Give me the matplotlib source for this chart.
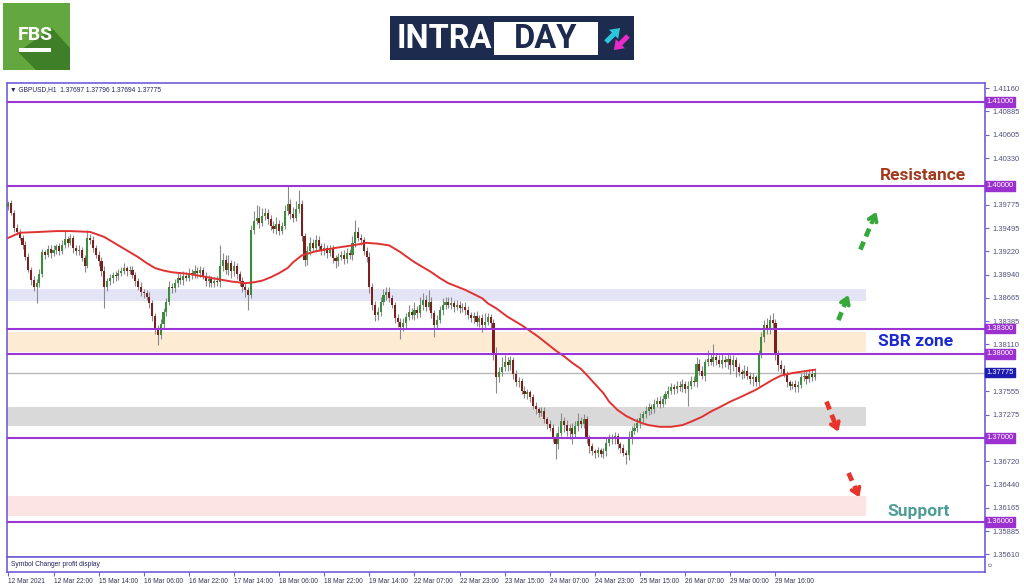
import matplotlib
matplotlib.use("Agg")
import matplotlib.pyplot as plt
import matplotlib.transforms as mtransforms
from matplotlib.patches import Rectangle, Polygon
import numpy as np

W, H = 1024, 587

# GBPUSD H1 closes, bar by bar (12 Mar 06:00 .. 30 Mar 06:00)
closes = [
    1.3979, 1.3968, 1.3950, 1.3945, 1.3938, 1.3930, 1.3915, 1.3900, 1.3888, 1.3880,
    1.3884, 1.3895, 1.3921, 1.3918, 1.3925, 1.3920, 1.3924, 1.3928, 1.3922, 1.3930,
    1.3936, 1.3932, 1.3938, 1.3926, 1.3922, 1.3924, 1.3914, 1.3905, 1.3938, 1.3935,
    1.3926, 1.3918, 1.3910, 1.3898, 1.3880, 1.3886, 1.3890, 1.3894, 1.3892, 1.3896,
    1.3899, 1.3902, 1.3898, 1.3900, 1.3894, 1.3886, 1.3880, 1.3874, 1.3872, 1.3868,
    1.3860, 1.3845, 1.3830, 1.3822, 1.3835, 1.3850, 1.3862, 1.3880, 1.3878, 1.3884,
    1.3890, 1.3888, 1.3893, 1.3890, 1.3896, 1.3894, 1.3899, 1.3896, 1.3900, 1.3893,
    1.3886, 1.3889, 1.3884, 1.3887, 1.3885, 1.3905, 1.3912, 1.3900, 1.3908, 1.3898,
    1.3904, 1.3895, 1.3886, 1.3880, 1.3876, 1.3870, 1.3947, 1.3958, 1.3962, 1.3956,
    1.3964, 1.3968, 1.3960, 1.3952, 1.3948, 1.3955, 1.3946, 1.3952, 1.3970, 1.3978,
    1.3966, 1.3962, 1.3972, 1.3978, 1.3940, 1.3912, 1.3922, 1.3932, 1.3926, 1.3935,
    1.3928, 1.3922, 1.3926, 1.3920, 1.3925, 1.3914, 1.3910, 1.3915, 1.3918, 1.3913,
    1.3920, 1.3917, 1.3932, 1.3945, 1.3938, 1.3935, 1.3922, 1.3915, 1.3880, 1.3858,
    1.3846, 1.3850, 1.3862, 1.3870, 1.3874, 1.3866, 1.3858, 1.3842, 1.3838, 1.3832,
    1.3836, 1.3844, 1.3850, 1.3846, 1.3852, 1.3848, 1.3858, 1.3864, 1.3856, 1.3862,
    1.3848, 1.3834, 1.3840, 1.3852, 1.3858, 1.3862, 1.3858, 1.3860, 1.3856, 1.3858,
    1.3854, 1.3856, 1.3852, 1.3846, 1.3842, 1.3845, 1.3838, 1.3842, 1.3834, 1.3838,
    1.3844, 1.3836, 1.3800, 1.3772, 1.3778, 1.3784, 1.3790, 1.3786, 1.3792, 1.3776,
    1.3766, 1.3768, 1.3756, 1.3752, 1.3754, 1.3748, 1.3738, 1.3734, 1.3730, 1.3732,
    1.3722, 1.3716, 1.3712, 1.3700, 1.3692, 1.3706, 1.3720, 1.3715, 1.3708, 1.3712,
    1.3705, 1.3714, 1.3720, 1.3716, 1.3722, 1.3700, 1.3690, 1.3684, 1.3682, 1.3685,
    1.3681, 1.3684, 1.3694, 1.3700, 1.3698, 1.3702, 1.3692, 1.3688, 1.3682, 1.3680,
    1.3698, 1.3708, 1.3712, 1.3718, 1.3724, 1.3728, 1.3732, 1.3736, 1.3734, 1.3740,
    1.3744, 1.3740, 1.3746, 1.3752, 1.3756, 1.3760, 1.3758, 1.3762, 1.3760, 1.3764,
    1.3758, 1.3762, 1.3768, 1.3766, 1.3788, 1.3780, 1.3774, 1.3790, 1.3794, 1.3790,
    1.3796, 1.3792, 1.3788, 1.3792, 1.3790, 1.3794, 1.3786, 1.3792, 1.3784, 1.3778,
    1.3776, 1.3780, 1.3774, 1.3770, 1.3772, 1.3766, 1.3800, 1.3820, 1.3834, 1.3828,
    1.3840, 1.3836, 1.3800, 1.3786, 1.3782, 1.3776, 1.3766, 1.3762, 1.3764, 1.3760,
    1.3763, 1.3772, 1.3774, 1.3770, 1.3776, 1.3772, 1.37775,
]
first_open = 1.3975

# wick length beyond the body, in pips
upper_wick = [
    3, 4, 3, 5, 4, 3, 4, 5, 3, 4,  5, 6, 4, 3, 5, 4, 6, 3, 4, 5,
    11, 4, 5, 3, 4, 5, 3, 4, 9, 4,  5, 3, 4, 5, 6, 4, 5, 3, 4, 5,
    4, 6, 3, 5, 4, 3, 4, 5, 3, 4,  5, 4, 3, 4, 6, 5, 4, 6, 4, 5,
    7, 5, 6, 4, 6, 5, 7, 4, 5, 3,  4, 5, 3, 4, 5, 24, 8, 5, 9, 4,
    6, 4, 3, 5, 4, 3, 6, 12, 15, 14,  9, 6, 4, 5, 6, 8, 4, 5, 7, 23,
    6, 9, 10, 17, 5, 4, 6, 7, 4, 6,  5, 4, 6, 3, 5, 4, 3, 5, 4, 5,
    6, 5, 8, 14, 6, 5, 4, 5, 6, 4,  5, 6, 5, 7, 6, 5, 4, 3, 5, 4,
    6, 5, 8, 4, 9, 5, 10, 8, 6, 14,  5, 4, 6, 5, 8, 6, 5, 7, 4, 6,
    5, 4, 6, 5, 4, 5, 6, 4, 5, 10,  4, 3, 5, 8, 6, 12, 8, 6, 5, 4,
    5, 4, 3, 5, 4, 3, 4, 5, 3, 4,  4, 3, 5, 4, 6, 8, 10, 5, 6, 4,
    5, 6, 10, 5, 6, 4, 3, 4, 3, 4,  3, 4, 6, 5, 4, 5, 4, 3, 4, 3,
    10, 6, 5, 6, 5, 4, 6, 5, 4, 6,  5, 6, 5, 4, 6, 5, 4, 6, 5, 6,
    4, 5, 6, 5, 8, 6, 5, 4, 10, 6,  16, 5, 6, 8, 5, 6, 5, 7, 4, 5,
    4, 6, 5, 4, 5, 3, 5, 6, 6, 8,  6, 8, 5, 4, 6, 5, 4, 3, 4, 5,
    4, 5, 4, 5, 6, 5, 4,
]
lower_wick = [
    4, 3, 5, 4, 3, 5, 4, 3, 6, 5,  20, 5, 4, 5, 3, 6, 4, 5, 4, 3,
    4, 5, 3, 6, 4, 5, 4, 8, 3, 4,  5, 4, 6, 5, 26, 5, 4, 6, 5, 4,
    3, 4, 5, 3, 4, 5, 4, 5, 6, 4,  5, 6, 7, 12, 5, 6, 5, 4, 6, 5,
    4, 5, 6, 4, 3, 5, 4, 6, 5, 4,  5, 6, 4, 5, 4, 5, 6, 5, 6, 8,
    5, 6, 5, 6, 8, 18, 4, 5, 4, 6,  4, 5, 6, 5, 4, 6, 5, 4, 3, 5,
    6, 5, 4, 5, 6, 8, 6, 5, 4, 5,  6, 4, 5, 6, 4, 6, 8, 5, 4, 6,
    5, 4, 6, 5, 4, 6, 5, 6, 8, 6,  7, 6, 5, 4, 6, 5, 4, 5, 6, 14,
    5, 6, 4, 5, 6, 5, 4, 6, 5, 4,  6, 14, 5, 4, 6, 5, 4, 5, 6, 4,
    5, 4, 6, 5, 4, 6, 5, 6, 8, 5,  4, 6, 8, 19, 6, 5, 4, 6, 5, 6,
    5, 6, 4, 5, 6, 5, 4, 6, 5, 4,  5, 6, 4, 5, 17, 5, 4, 8, 6, 10,
    12, 5, 6, 4, 5, 6, 8, 5, 6, 5,  4, 5, 6, 4, 5, 6, 5, 6, 4, 11,
    6, 5, 4, 5, 6, 5, 4, 5, 6, 5,  4, 5, 4, 6, 5, 4, 6, 5, 4, 5,
    5, 20, 4, 5, 6, 5, 4, 6, 5, 4,  5, 6, 4, 5, 6, 8, 10, 6, 12, 5,
    6, 5, 4, 6, 8, 5, 4, 5, 6, 4,  5, 6, 8, 6, 5, 4, 6, 5, 4, 5,
    6, 4, 5, 6, 4, 5, 3,
]

# moving average (red line), read at sample bars
ma_bars = [0, 4, 11, 17, 22, 29, 34, 39, 43, 46, 49, 52, 55, 58, 64, 74, 79, 84,
           87, 90, 93, 96, 99, 101, 104, 109, 116, 122, 127, 131, 135, 139, 141,
           144, 147, 150, 153, 156, 159, 162, 165, 168, 170, 173, 175, 177, 182,
           185, 188, 191, 194, 197, 200, 203, 205, 208, 211, 213, 216, 219, 222,
           225, 227, 231, 235, 239, 242, 246, 249, 252, 256, 260, 265, 268, 271,
           274, 278, 282, 286]
ma_values = [1.3938, 1.3944, 1.3945, 1.3946, 1.3946, 1.3945, 1.3939, 1.3929,
             1.3921, 1.3915, 1.3908, 1.3902, 1.3899, 1.3897, 1.3895, 1.3889,
             1.3886, 1.3884, 1.3885, 1.3887, 1.3891, 1.3896, 1.3902, 1.3909,
             1.3917, 1.3922, 1.3926, 1.3929, 1.3932, 1.3931, 1.3929, 1.3921,
             1.3916, 1.3909, 1.3903, 1.3897, 1.3890, 1.3884, 1.3880, 1.3876,
             1.3871, 1.3866, 1.3860, 1.3854, 1.3849, 1.3844, 1.3834, 1.3827,
             1.3820, 1.3812, 1.3804, 1.3797, 1.3789, 1.3782, 1.3775, 1.3764,
             1.3753, 1.3743, 1.3733, 1.3726, 1.3721, 1.3717, 1.3715, 1.3713,
             1.3713, 1.3715, 1.3719, 1.3725, 1.3731, 1.3736, 1.3743, 1.3749,
             1.3757, 1.3763, 1.3769, 1.3774, 1.3777, 1.3779, 1.3781]

levels = [1.41, 1.40, 1.383, 1.38, 1.37, 1.36]
last_price = 1.37775
zone_low = [1.38631, 1.38024, 1.37143, 1.36071]
zone_high = [1.38767, 1.38262, 1.37369, 1.36306]
zone_end = 304

price_ticks = [1.41160, 1.40885, 1.40605, 1.40330, 1.39775, 1.39495,
               1.39220, 1.38940, 1.38665, 1.38385, 1.38110, 1.37555,
               1.37275, 1.36720, 1.36440, 1.36165, 1.35885, 1.35610]
date_labels = ["12 Mar 2021", "12 Mar 22:00", "15 Mar 14:00", "16 Mar 06:00",
               "16 Mar 22:00", "17 Mar 14:00", "18 Mar 06:00", "18 Mar 22:00",
               "19 Mar 14:00", "22 Mar 07:00", "22 Mar 23:00", "23 Mar 15:00",
               "24 Mar 07:00", "24 Mar 23:00", "25 Mar 15:00", "26 Mar 07:00",
               "29 Mar 00:00", "29 Mar 16:00"]
date_step = 16

# scenario arrows: (bar, price) start -> tip
up_arrows = [((294.3, 1.3840), (297.9, 1.3870)), ((302.1, 1.3924), (307.8, 1.3969))]
down_arrows = [((290.1, 1.3743), (294.3, 1.3707)), ((297.9, 1.3658), (301.8, 1.3629))]
notes = [("Resistance", 324.3, 1.40127, "#a33a1e"),
         ("SBR zone", 321.8, 1.38151, "#1b2ad0"),
         ("Support", 322.9, 1.36125, "#4e9c97")]

plt.rcParams["font.family"] = ["Liberation Sans", "DejaVu Sans"]

FRAME = "#6f5fd9"
LEVEL = "#9b35d6"

fig = plt.figure(figsize=(W / 100, H / 100), dpi=100)
fig.patch.set_facecolor("white")

# ---- logos (pixel overlay)
ov = fig.add_axes([0, 0, 1, 1])
ov.set_xlim(0, W)
ov.set_ylim(H, 0)
ov.axis("off")

ov.add_patch(Rectangle((3, 3), 67, 67, fc="#62a83e", ec="none"))
ov.add_patch(Polygon([(18, 52), (52, 28), (70, 48), (70, 70), (36, 70)], fc="#3f7f27", ec="none"))
ov.text(35, 35, "FBS", color="white", fontsize=14, fontweight="bold",
        family="Roboto", ha="center", va="center")
ov.add_patch(Rectangle((19, 48), 32, 4, fc="white", ec="none"))

ov.add_patch(Rectangle((390, 16), 244, 44, fc="#1d2b4f", ec="none"))
ov.text(397, 39, "INTRA", color="white", fontsize=23.5, fontweight="bold",
        family="Roboto", ha="left", va="center")
ov.add_patch(Rectangle((494, 22), 104, 33, fc="white", ec="none"))
ov.text(546, 39, "DAY", color="#1d2b4f", fontsize=23.5, fontweight="bold",
        family="Roboto", ha="center", va="center")
ov.arrow(606, 42, 14, -14, width=5, head_width=13, head_length=9,
         fc="#2cc6d8", ec="none", length_includes_head=True)
ov.arrow(628, 36, -14, 14, width=5, head_width=13, head_length=9,
         fc="#e62bc8", ec="none", length_includes_head=True)

# ---- main price panel
ax = fig.add_axes([7 / W, 1 - 557 / H, 978 / W, 474 / H])
ax.set_xlim(-0.5, 346.3)
ax.set_ylim(1.35580, 1.41223)
for s in ax.spines.values():
    s.set_color(FRAME)
    s.set_linewidth(1.2)

zone_colors = ["#e4e4f7", "#fdebd4", "#d9d9d9", "#fce4e2"]
for lo, hi, col in zip(zone_low, zone_high, zone_colors):
    ax.fill_between([-0.5, zone_end], lo, hi, color=col, lw=0, zorder=1)

ax.axhline(last_price, color="#b8b8b8", lw=1.0, zorder=2)

closes_a = np.array(closes)
opens = np.concatenate([[first_open], closes_a[:-1]])
body_top = np.maximum(opens, closes_a)
body_bot = np.minimum(opens, closes_a)
highs = body_top + np.array(upper_wick) * 1e-4
lows = body_bot - np.array(lower_wick) * 1e-4
x = np.arange(len(closes))
up = closes_a >= opens

ax.vlines(x, lows, highs, color="#8a8a8a", lw=0.8, zorder=3)
body_h = np.maximum(body_top - body_bot, 0.00004)
ax.bar(x, body_h, bottom=body_bot, width=0.74,
       color=np.where(up, "#3a8d3a", "#7e1f1f"), lw=0, zorder=3.5)

ax.plot(ma_bars, ma_values, color="#e03232", lw=1.4, zorder=4)

for lv in levels:
    ax.axhline(lv, color=LEVEL, lw=1.5, zorder=5)

# right price scale
ax.yaxis.tick_right()
ax.set_yticks(price_ticks)
ax.set_yticklabels([f"{t:.5f}" for t in price_ticks])
ax.tick_params(axis="y", length=3, width=0.8, color=FRAME, labelsize=5.4,
               labelcolor="#50507a", pad=2)
ax.set_xticks([])

trans = mtransforms.blended_transform_factory(ax.transAxes, ax.transData)
for lv in levels:
    ax.text(1.0018, lv, f"{lv:.5f}", transform=trans, fontsize=5.4, color="white",
            ha="left", va="center", clip_on=False, zorder=10,
            bbox=dict(boxstyle="square,pad=0.18", fc="#9a30d0", ec="#9a30d0"))
ax.text(1.0018, last_price, f"{last_price:.5f}", transform=trans, fontsize=5.4,
        color="white", ha="left", va="center", clip_on=False, zorder=10,
        bbox=dict(boxstyle="square,pad=0.18", fc="#1c1cb0", ec="#1c1cb0"))

ax.text(3 / 978, 0.987, "\u25bc GBPUSD,H1  1.37697 1.37796 1.37694 1.37775",
        transform=ax.transAxes, fontsize=4.8, color="#23235f", ha="left", va="center",
        family=["Liberation Sans", "DejaVu Sans"])

for text, bx, py, col in notes:
    ax.text(bx, py, text, color=col, fontsize=12.5, fontweight="bold",
            family="Roboto", ha="center", va="center", zorder=6)

def dashed_arrow(start, tip, color):
    x0, y0 = start
    x1, y1 = tip
    # shaft stops a little short of the tip, head drawn solid
    xs = x0 + (x1 - x0) * 0.72
    ys = y0 + (y1 - y0) * 0.72
    ax.plot([x0, xs], [y0, ys], color=color, lw=3.4, ls=(0, (1.8, 1.2)),
            solid_capstyle="butt", dash_capstyle="butt", zorder=6)
    ax.annotate("", xy=(x1, y1), xytext=(xs, ys), zorder=6,
                arrowprops=dict(arrowstyle="->,head_length=0.45,head_width=0.3",
                                color=color, lw=2.8, shrinkA=0, shrinkB=0))

for s, t in up_arrows:
    dashed_arrow(s, t, "#36a83a")
for s, t in down_arrows:
    dashed_arrow(s, t, "#e8342a")

# ---- indicator sub-panel with the time scale
ax2 = fig.add_axes([7 / W, 1 - 572 / H, 978 / W, 15 / H])
ax2.set_xlim(ax.get_xlim())
ax2.set_ylim(0, 1)
for s in ax2.spines.values():
    s.set_color(FRAME)
    s.set_linewidth(1.2)
ax2.set_yticks([])
ax2.set_xticks([i * date_step for i in range(len(date_labels))])
ax2.set_xticklabels(date_labels, ha="left")
ax2.tick_params(axis="x", length=3, width=0.8, color=FRAME, labelsize=4.8,
                labelcolor="#333355", pad=1)
ax2.text(4 / 978, 0.5, "Symbol Changer profit display", transform=ax2.transAxes,
         fontsize=4.8, color="#23235f", ha="left", va="center")
ax2.text(1.004, 0.5, "0", transform=ax2.transAxes, fontsize=4.5, color="#50507a",
         rotation=90, ha="left", va="center")

fig.savefig("out.png", dpi=100)
